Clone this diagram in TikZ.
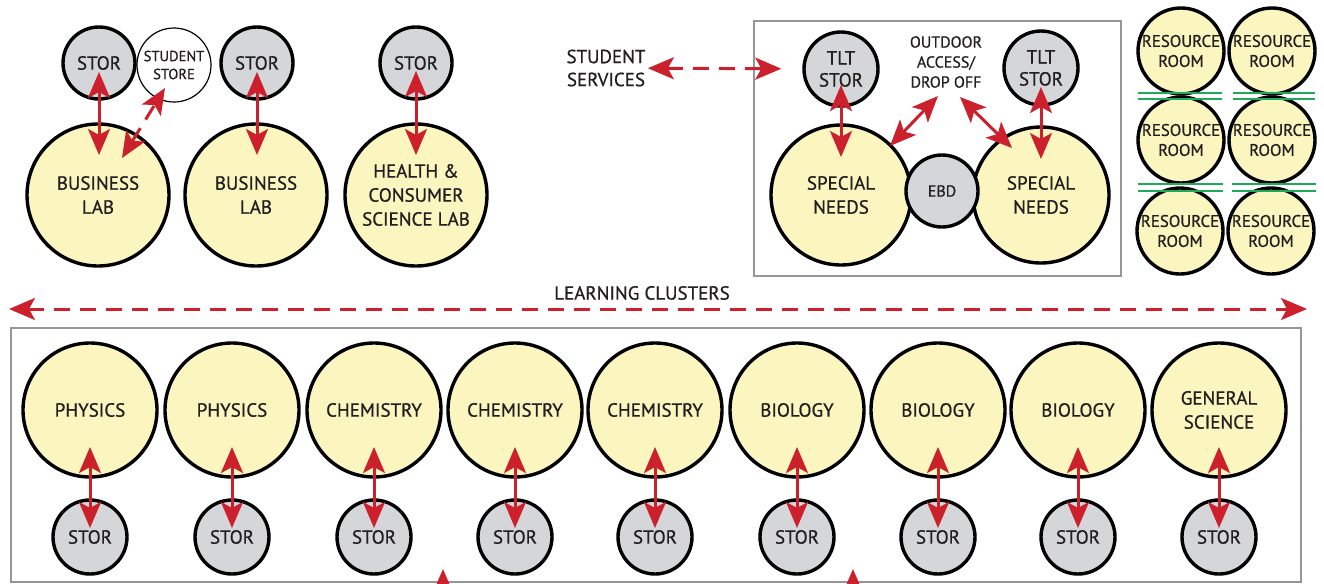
\documentclass[tikz,border=0pt]{standalone}
\usepackage{fontspec}
\setmainfont{PT Sans}[UprightFeatures={FakeBold=0.8}]
\usetikzlibrary{arrows.meta,calc}
\definecolor{labyellow}{RGB}{251,246,192}
\definecolor{storgray}{RGB}{213,214,218}
\definecolor{arrowred}{RGB}{204,32,44}
\definecolor{roomgreen}{RGB}{30,170,90}
\definecolor{boxgray}{RGB}{150,150,150}
\definecolor{inkblack}{RGB}{35,31,32}

\begin{document}
\begin{tikzpicture}[x=0.5pt,y=0.5pt,yscale=-1,xscale=1,
  lab/.style={circle,draw=black,line width=1.7pt,fill=labyellow,inner sep=0pt,align=center,text=inkblack,font=\fontsize{9.5}{12}\selectfont},
  stor/.style={circle,draw=black,line width=1.7pt,fill=storgray,inner sep=0pt,align=center,text=inkblack,minimum size=36pt,font=\fontsize{9.5}{11}\selectfont},
  room/.style={lab,minimum size=43pt,font=\fontsize{8.4}{10}\selectfont},
  link/.style={draw=arrowred,line width=1.5pt,{Stealth[length=13pt,width=11pt,inset=3pt]}-{Stealth[length=13pt,width=11pt,inset=3pt]}},
  dashlink/.style={link,dash pattern=on 8pt off 5pt},
  feed/.style={draw=arrowred,line width=1.5pt,-{Stealth[length=13pt,width=11pt,inset=3pt]}},
  caption/.style={align=center,inner sep=1pt,text=inkblack,font=\fontsize{9.5}{11.5}\selectfont}]
\useasboundingbox (0,0) rectangle (1324,584);

%Shape: Circle (business and health labs)
\node[stor] (stor1) at (99,63) {STOR};
\node[circle,draw=black,line width=0.6pt,fill=white,minimum size=37pt,inner sep=0pt,align=center,text=inkblack,font=\fontsize{7.3}{9}\selectfont] (store) at (174,65) {STUDENT\\STORE};
\node[stor] (stor2) at (257,63) {STOR};
\node[stor] (stor3) at (416,63) {STOR};
\node[lab,minimum size=71pt] (bizlab1) at (98,195) {BUSINESS\\LAB};
\node[lab,minimum size=71pt] (bizlab2) at (256,195) {BUSINESS\\LAB};
\node[lab,minimum size=71pt] (healthlab) at (416,195) {HEALTH \&\\CONSUMER\\SCIENCE LAB};
%Straight Lines
\draw[link] ($(stor1)+(0,9)$) -- ($(stor1|-bizlab1)+(0,-40)$);
\draw[link] ($(stor2)+(0,9)$) -- ($(stor2|-bizlab2)+(0,-40)$);
\draw[link] ($(stor3)+(0,8)$) -- ($(healthlab)+(0,-40)$);
\draw[dashlink] ($(bizlab1)+(24,-37)$) -- ($(store)+(-9,23)$);

% Text Node
\node[caption] (services) at (606,68) {STUDENT\\SERVICES};
%Shape: Rectangle
\draw[boxgray,line width=0.6pt] (754,21) rectangle (1121,276);
%Shape: Circle (special needs)
\node[stor,minimum size=37pt] (tlt1) at (841,69) {TLT\\STOR};
\node[stor,minimum size=37pt] (tlt2) at (1041,68) {TLT\\STOR};
\node[lab,minimum size=70pt] (needs1) at (841,195) {SPECIAL\\NEEDS};
\node[lab,minimum size=68pt] (needs2) at (1041,195) {SPECIAL\\NEEDS};
\node[stor,minimum size=36pt,font=\fontsize{8}{10}\selectfont] (ebd) at (942,191) {EBD};
% Text Node
\node[align=center,inner sep=1pt,text=inkblack,font=\fontsize{8}{10}\selectfont] (outdoor) at (946,62) {OUTDOOR\\ACCESS/\\DROP OFF};
%Straight Lines
\draw[dashlink,shorten >=10.5pt] (services) -- (tlt1);
\draw[link] ($(tlt1)+(0,16)$) -- ($(needs1)+(0,-38)$);
\draw[link] ($(tlt2)+(0,19)$) -- ($(needs2)+(0,-36)$);
\draw[link] ($(outdoor)+(-8,34)$) -- ($(needs1)+(49,-49)$);
\draw[link] ($(outdoor)+(14,35)$) -- ($(needs2)+(-29,-47)$);

%Shape: Circle (resource rooms)
\node[room] (room1) at (1181,51) {RESOURCE\\ROOM};
\node[room] (room2) at (1272,51) {RESOURCE\\ROOM};
\node[room] (room3) at (1181,140) {RESOURCE\\ROOM};
\node[room] (room4) at (1272,140) {RESOURCE\\ROOM};
\node[room] (room5) at (1180,231) {RESOURCE\\ROOM};
\node[room] (room6) at (1271,231) {RESOURCE\\ROOM};
%Straight Lines (green separators)
\draw[roomgreen,line width=0.8pt] (1138,93) -- (1222,93) (1138,99) -- (1222,99)
  (1233,93) -- (1315,93) (1233,99) -- (1315,99)
  (1138,184) -- (1223,184) (1138,191) -- (1223,191)
  (1232,184) -- (1316,184) (1232,191) -- (1316,191);

% Text Node
\node[caption] (clusters) at (642,293) {LEARNING CLUSTERS};
\coordinate (clustersW) at (9,309);
\coordinate (clustersE) at (1307,309);
\draw[dashlink] (clustersW) -- (clustersE);

%Shape: Rectangle
\draw[boxgray,line width=0.6pt] (11,328) rectangle (1301,582);
%Shape: Circle (science labs)
\node[lab,minimum size=67pt] (physics1) at (90,410) {PHYSICS};
\node[lab,minimum size=67pt] (physics2) at (232,410) {PHYSICS};
\node[lab,minimum size=67pt] (chem1) at (374,410) {CHEMISTRY};
\node[lab,minimum size=67pt] (chem2) at (515,410) {CHEMISTRY};
\node[lab,minimum size=67pt] (chem3) at (655,410) {CHEMISTRY};
\node[lab,minimum size=67pt] (bio1) at (797,410) {BIOLOGY};
\node[lab,minimum size=67pt] (bio2) at (938,410) {BIOLOGY};
\node[lab,minimum size=67pt] (bio3) at (1078,410) {BIOLOGY};
\node[lab,minimum size=67pt] (gensci) at (1219,410) {GENERAL\\SCIENCE};
\node[stor,minimum size=37pt] (labstor1) at (90,537) {STOR};
\node[stor,minimum size=37pt] (labstor2) at (232,537) {STOR};
\node[stor,minimum size=37pt] (labstor3) at (374,537) {STOR};
\node[stor,minimum size=37pt] (labstor4) at (515,537) {STOR};
\node[stor,minimum size=37pt] (labstor5) at (655,537) {STOR};
\node[stor,minimum size=37pt] (labstor6) at (797,537) {STOR};
\node[stor,minimum size=37pt] (labstor7) at (938,537) {STOR};
\node[stor,minimum size=37pt] (labstor8) at (1078,537) {STOR};
\node[stor,minimum size=37pt] (labstor9) at (1219,537) {STOR};
%Straight Lines
\draw[link] ($(physics1)+(0,37)$) -- ($(labstor1)+(0,-9)$);
\draw[link] ($(physics2)+(0,37)$) -- ($(labstor2)+(0,-9)$);
\draw[link] ($(chem1)+(0,37)$) -- ($(labstor3)+(0,-9)$);
\draw[link] ($(chem2)+(0,37)$) -- ($(labstor4)+(0,-9)$);
\draw[link] ($(chem3)+(0,37)$) -- ($(labstor5)+(0,-9)$);
\draw[link] ($(bio1)+(0,37)$) -- ($(labstor6)+(0,-9)$);
\draw[link] ($(bio2)+(0,37)$) -- ($(labstor7)+(0,-9)$);
\draw[link] ($(bio3)+(0,37)$) -- ($(labstor8)+(0,-9)$);
\draw[link] ($(gensci)+(0,37)$) -- ($(labstor9)+(0,-9)$);

%Straight Lines (arrows coming in from below)
\coordinate (feedA) at (443,615);
\coordinate (feedAtip) at (443,569);
\coordinate (feedB) at (853,615);
\coordinate (feedBtip) at (853,569);
\draw[feed] (feedA) -- (feedAtip);
\draw[feed] (feedB) -- (feedBtip);

\end{tikzpicture}
\end{document}
